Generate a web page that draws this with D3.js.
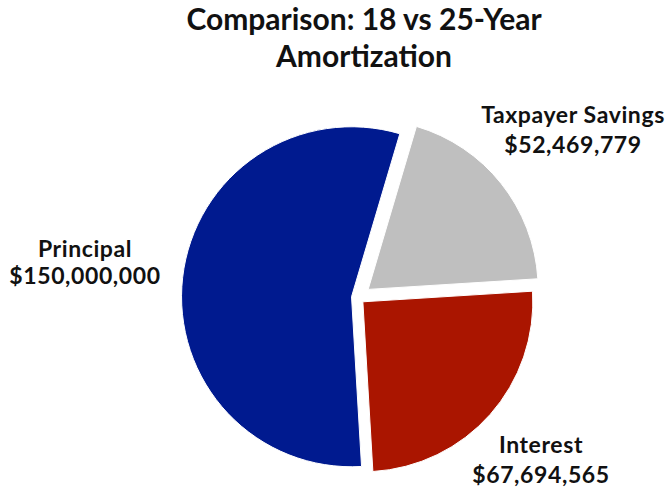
<!DOCTYPE html>
<html><head><meta charset="utf-8">
<script src="https://cdn.jsdelivr.net/npm/d3@7"></script>
<style>
html,body{margin:0;padding:0;background:#fff;}
svg{display:block;font-family:Lato,"Open Sans",sans-serif;font-weight:bold;}
</style></head>
<body>
<script>
const titleLines = ["Comparison: 18 vs 25-Year", "Amortization"];
const categories = ["Principal", "Interest", "Taxpayer Savings"];
const values = [150000000, 67694565, 52469779];
const colors = ["#001a8f", "#aa1500", "#bfbfbf"];

const W = 671, H = 491;
const svg = d3.select("body").append("svg").attr("width", W).attr("height", H);

const cx = 358, cy = 297.5, R = 170;
const explode = [6.5, 6.5, 13];
const start = 16.5 * Math.PI / 180;

const pie = d3.pie().sort(null).value(d => d.v)
  .startAngle(start).endAngle(start - 2 * Math.PI);
const data = categories.map((c, i) => ({c, v: values[i], i}));
const arcs = pie(data);
const arc = d3.arc().innerRadius(0).outerRadius(R);

const g = svg.append("g").attr("transform", `translate(${cx},${cy})`);
g.selectAll("path").data(arcs).join("path")
  .attr("d", arc)
  .attr("fill", d => colors[d.data.i])
  .attr("stroke", "#fff").attr("stroke-width", 1)
  .attr("transform", d => {
    const m = (d.startAngle + d.endAngle) / 2;
    const o = explode[d.data.i];
    return `translate(${o * Math.sin(m)},${-o * Math.cos(m)})`;
  });

// title
svg.append("g").selectAll("text").data(titleLines).join("text")
  .attr("x", 364).attr("y", (d, i) => 30 + i * 37)
  .attr("text-anchor", "middle").attr("font-size", 30).attr("fill", "#111")
  .text(d => d);

// labels
const fmt = d3.format("$,");
const labelPos = [[85, 257, 284], [541, 453, 483], [573, 123, 153]];
const lab = svg.append("g").selectAll("g").data(arcs).join("g");
lab.append("text")
  .attr("x", d => labelPos[d.data.i][0]).attr("y", d => labelPos[d.data.i][1])
  .attr("text-anchor", "middle").attr("font-size", 23).attr("letter-spacing", 0.6).attr("fill", "#111")
  .text(d => d.data.c);
lab.append("text")
  .attr("x", d => labelPos[d.data.i][0]).attr("y", d => labelPos[d.data.i][2])
  .attr("text-anchor", "middle").attr("font-size", 23).attr("letter-spacing", 0.6).attr("fill", "#111")
  .text(d => fmt(d.data.v));
</script>
</body></html>
